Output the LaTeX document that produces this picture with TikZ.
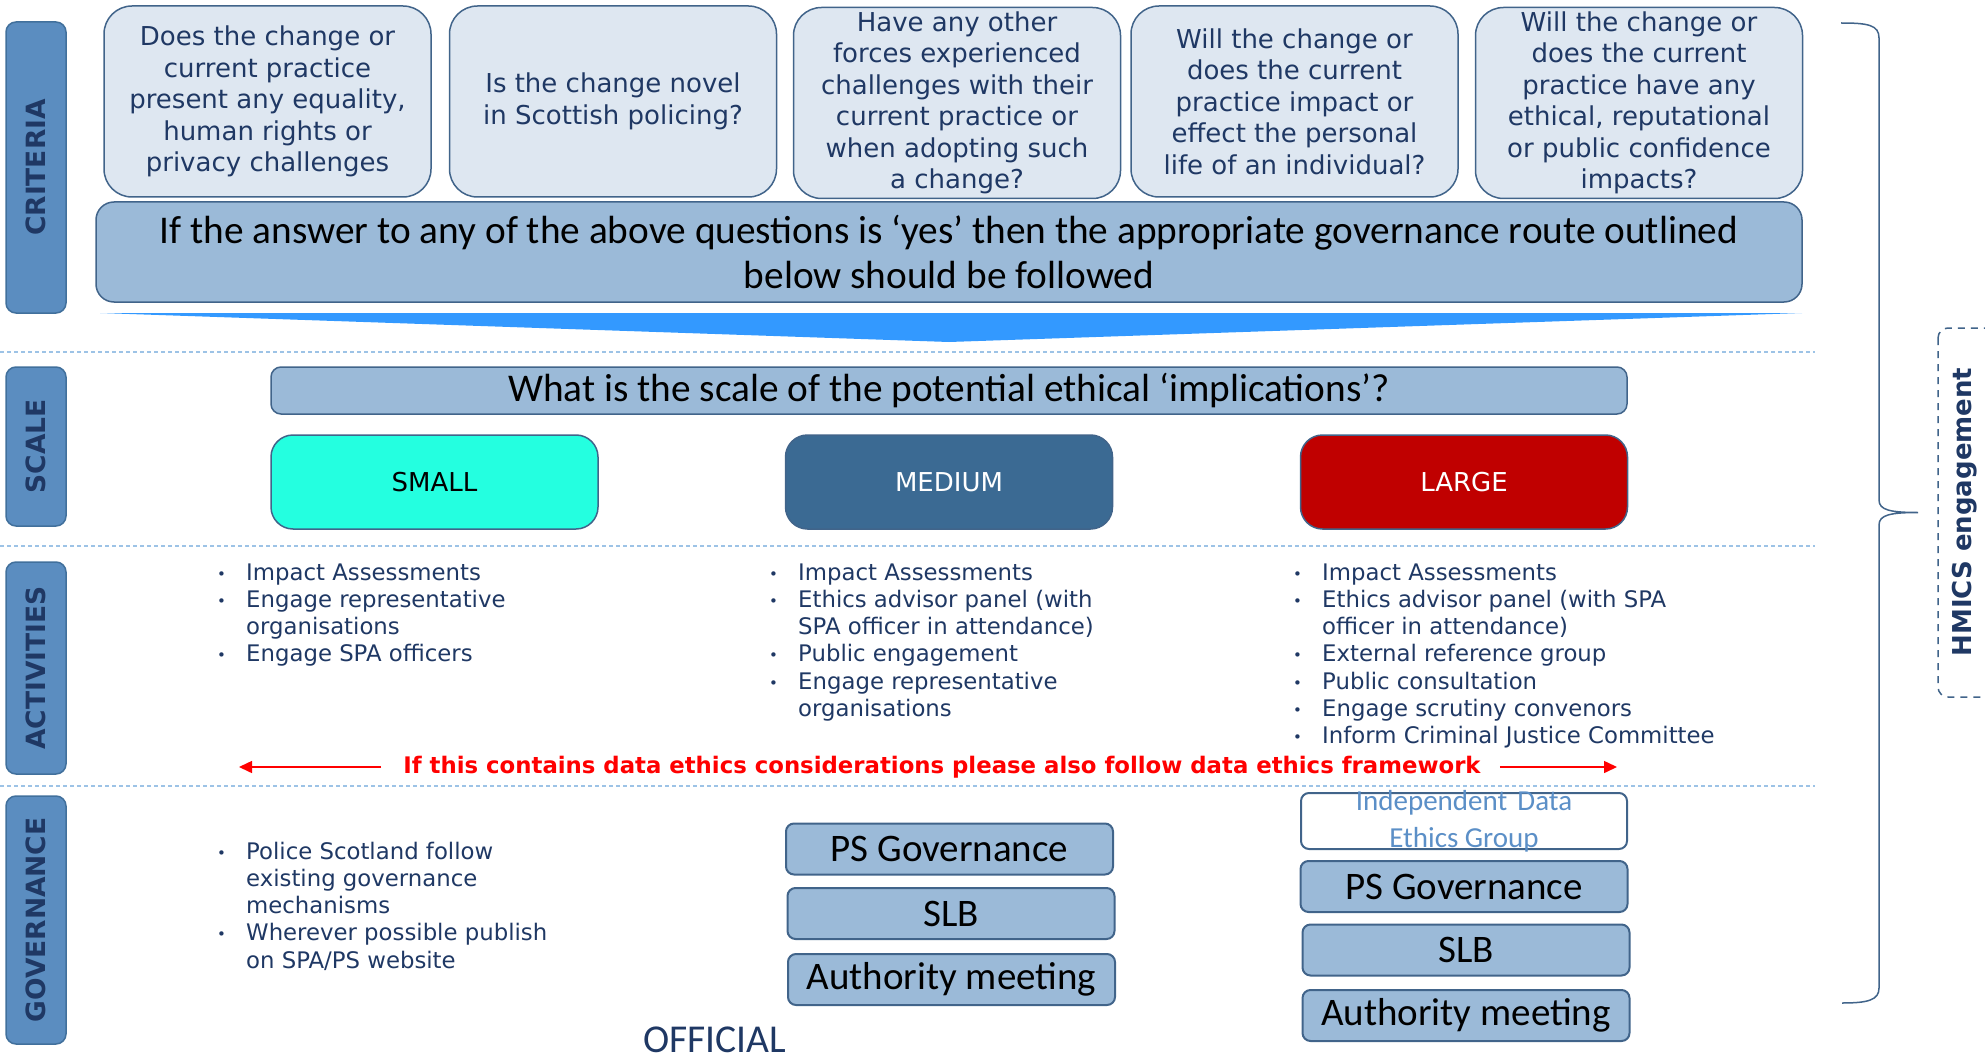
\documentclass[tikz,border=0pt]{standalone}
\usepackage{fontspec}
\setmainfont{DejaVu Sans}
\newfontfamily\calib{Carlito}
\usetikzlibrary{arrows.meta}

\definecolor{navy}{HTML}{1F3864}
\definecolor{boxedge}{HTML}{41648A}
\definecolor{tabfill}{HTML}{5B8DC0}
\definecolor{tabedge}{HTML}{41709C}
\definecolor{qfill}{HTML}{DEE7F1}
\definecolor{bfill}{HTML}{9BBAD8}
\definecolor{smallfill}{HTML}{24FFE0}
\definecolor{medfill}{HTML}{3B6A93}
\definecolor{largefill}{HTML}{C00000}
\definecolor{wedgeblue}{HTML}{3399FF}
\definecolor{dotline}{HTML}{9DC3E6}
\definecolor{idblue}{HTML}{5B8FC7}

\newcommand{\bl}{\makebox[32pt][l]{\hspace{3pt}\raisebox{1pt}{\fontsize{15}{15}\selectfont •}}}
\newcommand{\nb}{\hspace*{32pt}}

\tikzset{
  sidetab/.style={draw=tabedge,fill=tabfill,line width=1.5pt,rounded corners=10pt,rotate=90,
    minimum height=60pt,inner sep=0pt,text=navy,font=\fontsize{26.5}{30}\selectfont\bfseries},
  question/.style={draw=boxedge,fill=qfill,line width=1.5pt,rounded corners=28pt,
    minimum width=327pt,minimum height=191pt,inner sep=0pt,align=center,text=navy,
    font=\fontsize{26}{31.5}\selectfont},
  banner/.style={draw=boxedge,fill=bfill,line width=1.5pt,inner sep=0pt,align=center,
    font=\calib\fontsize{39.3}{45}\selectfont},
  sizebox/.style={draw=boxedge,line width=1.5pt,rounded corners=22pt,minimum width=327pt,
    minimum height=94pt,font=\fontsize{26}{30}\selectfont},
  govbox/.style={draw=boxedge,fill=bfill,line width=2pt,rounded corners=8pt,minimum width=327pt,
    minimum height=51pt,inner sep=0pt,font=\calib\fontsize{39}{40}\selectfont},
  bullets/.style={anchor=base west,inner sep=0pt,text=navy,font=\fontsize{22.8}{27.3}\selectfont},
  divider/.style={draw=dotline,line width=2.5pt,dash pattern=on 4pt off 3pt},
  redarrow/.style={draw=red,line width=1.5pt,-{Triangle[length=13pt,width=12pt]}},
}

\begin{document}
\begin{tikzpicture}[x=1pt,y=-1pt]
    \useasboundingbox (0,0) rectangle (1985,1059);

    \foreach \y in {352,546,786} \draw[divider] (0,\y) -- (1815,\y);

    \node[sidetab,minimum width=291pt] (crit) at (36,167.5) {CRITERIA};
    \node[sidetab,minimum width=159pt] (scale) at (36,446.5) {SCALE};
    \node[sidetab,minimum width=212pt] (acts) at (36,668) {ACTIVITIES};
    \node[sidetab,minimum width=248pt] (gov) at (36,920) {GOVERNANCE};

    \node[question] (q1) at (267.5,101.5) {Does the change or\\current practice\\present any equality,\\human rights or\\privacy challenges};
    \node[question] (q2) at (613,101.5) {Is the change novel\\in Scottish policing?};
    \node[question] (q3) at (957,103) {Have any other\\forces experienced\\challenges with their\\current practice or\\when adopting such\\a change?};
    \node[question] (q4) at (1294.5,101.5) {Will the change or\\does the current\\practice impact or\\effect the personal\\life of an individual?};
    \node[question] (q5) at (1639,103) {Will the change or\\does the current\\practice have any\\ethical, reputational\\or public confidence\\impacts?};

    \node[banner,rounded corners=18pt,minimum width=1706pt,minimum height=100pt] (answer) at (949,252) {If the answer to any of the above questions is ‘yes’ then the appropriate governance route outlined\\below should be followed};
    \fill[wedgeblue] (100,313) -- (1802,313) -- (949,342) -- cycle;

    \node[banner,rounded corners=10pt,minimum width=1356pt,minimum height=47pt] (scaleq) at (949,390.5) {What is the scale of the potential ethical ‘implications’?};

    \node[sizebox,fill=smallfill] (small) at (434.5,482) {SMALL};
    \node[sizebox,fill=medfill,text=white] (medium) at (949,482) {MEDIUM};
    \node[sizebox,fill=largefill,text=white] (large) at (1464,482) {LARGE};

    \node[bullets] (actsmall) at (214,580) {\begin{tabular}[t]{@{}l@{}}\bl Impact Assessments\\ \bl Engage representative\\ \nb organisations\\ \bl Engage SPA officers\end{tabular}};
    \node[bullets] (actmed) at (766,580) {\begin{tabular}[t]{@{}l@{}}\bl Impact Assessments\\ \bl Ethics advisor panel (with\\ \nb SPA officer in attendance)\\ \bl Public engagement\\ \bl Engage representative\\ \nb organisations\end{tabular}};
    \node[bullets] (actlarge) at (1290,580) {\begin{tabular}[t]{@{}l@{}}\bl Impact Assessments\\ \bl Ethics advisor panel (with SPA\\ \nb officer in attendance)\\ \bl External reference group\\ \bl Public consultation\\ \bl Engage scrutiny convenors\\ \bl Inform Criminal Justice Committee\end{tabular}};

    \node[text=red,inner sep=0pt,font=\fontsize{22.8}{27}\selectfont\bfseries] (ethics) at (942,767) {If this contains data ethics considerations please also follow data ethics framework};
    \coordinate (lefttip) at (239,767);
    \coordinate (righttip) at (1617,767);
    \draw[redarrow] ([xshift=-22pt]ethics.west) -- (lefttip);
    \draw[redarrow] ([xshift=19pt]ethics.east) -- (righttip);

    \node[bullets] (govsmall) at (214,859) {\begin{tabular}[t]{@{}l@{}}\bl Police Scotland follow\\ \nb existing governance\\ \nb mechanisms\\ \bl Wherever possible publish\\ \nb on SPA/PS website\end{tabular}};

    \node[govbox] (psmed) at (949.5,849) {PS Governance};
    \node[govbox] (slbmed) at (951,913.5) {SLB};
    \node[govbox] (authmed) at (951.5,979.5) {Authority meeting};

    \node[govbox,fill=white,minimum width=326pt,minimum height=56pt] (ideg) at (1464,821) {};
    \node[text=idblue,align=center,inner sep=0pt,font=\calib\fontsize{29}{37}\selectfont] (idegtext) at (ideg.center) {Independent\hspace{.35em}Data\\Ethics Group};
    \node[govbox] (pslarge) at (1464,886.5) {PS Governance};
    \node[govbox] (slblarge) at (1466,950) {SLB};
    \node[govbox] (authlarge) at (1466,1015.5) {Authority meeting};

    \node[text=navy,inner sep=0pt,font=\calib\fontsize{39.5}{40}\selectfont] (official) at (715,1040) {OFFICIAL};

    \draw[boxedge,line width=1.5pt] (1841,23) .. controls (1868,23) and (1879,25) .. (1879,38) -- (1879,500)
        .. controls (1879,510) and (1890,512.5) .. (1918,512.5)
        .. controls (1890,512.5) and (1879,515) .. (1879,525) -- (1879,988)
        .. controls (1879,1000) and (1868,1003) .. (1842,1003);
    \draw[boxedge,line width=1.5pt,dash pattern=on 7pt off 6pt,rounded corners=10pt] (1938,328) rectangle (2010,697);
    \node[rotate=90,text=navy,inner sep=0pt,font=\fontsize{26}{30}\selectfont\bfseries] (hmics) at (1965,512) {HMICS engagement};
\end{tikzpicture}
\end{document}
